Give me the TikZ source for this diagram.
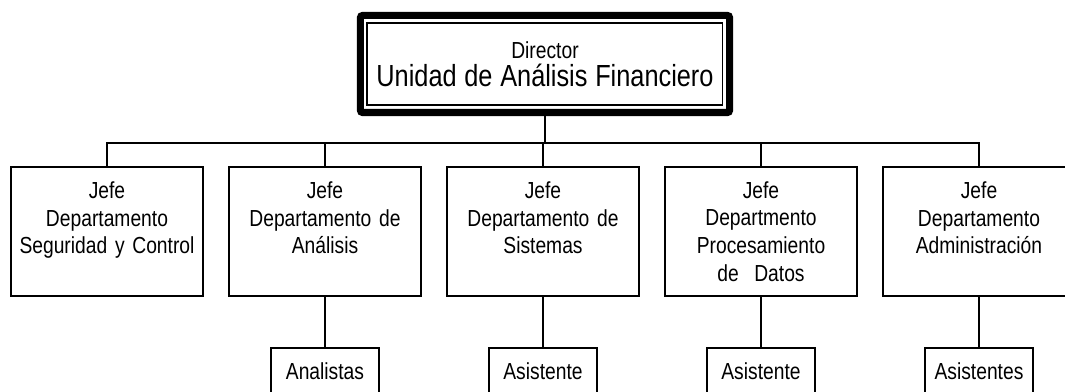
\documentclass[tikz,border=0pt]{standalone}
\usepackage{fontspec}
\setmainfont[FakeStretch=0.83, WordSpace=0.83]{Liberation Sans}
\begin{document}
\begin{tikzpicture}[x=0.025cm, y=0.025cm]
    % Define styles
    \tikzset{
        director/.style={draw, line width=5pt, rounded corners=1.5pt, minimum width=9.225cm, minimum height=2.425cm, inner sep=0pt, text width=9cm, align=center, font=\fontsize{16.5}{19.8}\selectfont},
        jefe/.style={draw, line width=1.1pt, minimum width=4.8cm, minimum height=3.225cm, inner sep=0pt, text width=4.7cm, align=center, font=\fontsize{16.5}{19.7}\selectfont},
        staff/.style={draw, line width=1.1pt, minimum width=2.7cm, minimum height=1.15cm, inner sep=0pt, align=center, font=\fontsize{16.5}{19.7}\selectfont},
        link/.style={line width=1.1pt}
    }
    \path[use as bounding box, clip] (0,0) rectangle (1065,392);

    % Director
    \node[director] (dir) at (545,328) {Director\\\fontsize{21.7}{27.7}\selectfont Unidad de Análisis Financiero};
    \draw[line width=0.8pt] ([shift={(10,-11)}]dir.north west) rectangle ([shift={(-11,11)}]dir.south east);

    % Jefes de departamento
    \node[jefe] (jefeSeg) at (107,160.5) {Jefe\\Departamento\\Seguridad y Control\\\mbox{}};
    \node[jefe] (jefeAna) at (325,160.5) {Jefe\\Departamento de\\Análisis\\\mbox{}};
    \node[jefe] (jefeSis) at (543,160.5) {Jefe\\Departamento de\\Sistemas\\\mbox{}};
    \node[jefe] (jefeProc) at (761,160.5) {Jefe\\Departmento\\Procesamiento\\de\ \ Datos};
    \node[jefe] (jefeAdm) at (979,160.5) {Jefe\\Departamento\\Administración\\\mbox{}};

    % Personal
    \node[staff] (analistas) at (325,21) {Analistas};
    \node[staff] (asisSis) at (543,21) {Asistente};
    \node[staff] (asisProc) at (761,21) {Asistente};
    \node[staff] (asisAdm) at (979,21) {Asistentes};

    % Lines
    \coordinate (bus) at (545,249);
    \draw[link] (dir.south) -- (bus);
    \draw[link] (jefeSeg.north) |- (bus) -| (jefeAdm.north);
    \foreach \n in {jefeAna, jefeSis, jefeProc}
        \draw[link] (\n.north) -- (\n.north |- bus);
    \foreach \a/\b in {jefeAna/analistas, jefeSis/asisSis, jefeProc/asisProc, jefeAdm/asisAdm}
        \draw[link] (\a.south) -- (\b.north);
\end{tikzpicture}
\end{document}
